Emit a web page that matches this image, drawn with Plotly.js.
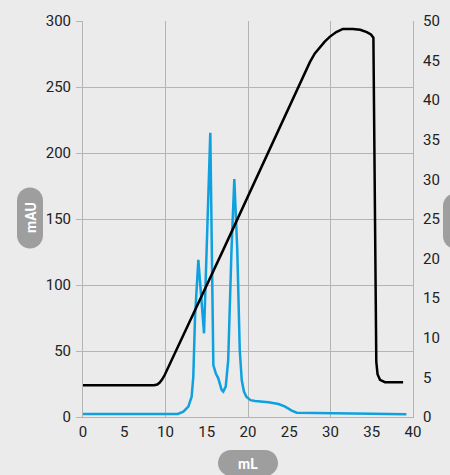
<!DOCTYPE html>
<html>
<head>
<meta charset="utf-8">
<script src="https://cdn.plot.ly/plotly-3.0.1.min.js"></script>
<style>html,body{margin:0;padding:0;background:#ebebeb;}#chart{width:450px;height:475px;}</style>
</head>
<body>
<div id="chart"></div>
<script>
// UV absorbance (mAU, left axis)
var uvVolume = [0, 5, 10, 11.5, 12.16, 12.77, 13.17, 13.37, 13.58, 13.98, 14.67, 15.43, 15.8, 16.1, 16.4, 16.8, 17.0, 17.3, 17.6, 17.8, 18.0, 18.34, 18.7, 19.0, 19.24, 19.5, 19.8, 20.3, 20.85, 22.5, 23.7, 24.5, 25.3, 25.9, 29.3, 35, 39.2];
var uvValues = [2.3, 2.3, 2.3, 2.3, 4.0, 7.8, 15.4, 30.5, 76, 119, 63.4, 215.4, 39.4, 33, 29.3, 20.5, 19.2, 23, 43, 88.6, 126.5, 180.3, 126.5, 50.8, 28, 19.5, 15.4, 12.8, 12.1, 11.1, 9.8, 7.8, 4.8, 3.3, 2.8, 2.4, 2.0];
// Second signal (right axis)
var bVolume = [0, 8.6, 9.0, 9.3, 9.6, 9.9, 17, 26.3, 27.0, 27.5, 28.1, 28.7, 29.3, 29.9, 30.7, 31.5, 32.7, 33.6, 34.4, 34.9, 35.2, 35.55, 35.7, 36.0, 36.6, 38.8];
var bValues = [4.0, 4.0, 4.1, 4.35, 4.75, 5.3, 21.1, 41.9, 43.5, 44.8, 45.9, 46.7, 47.4, 48.0, 48.6, 49.0, 49.0, 48.9, 48.6, 48.3, 47.9, 7.0, 5.4, 4.7, 4.4, 4.4];
var xTicks = [0, 5, 10, 15, 20, 25, 30, 35, 40];
var yLeftTicks = [0, 50, 100, 150, 200, 250, 300];
var yRightTicks = [0, 5, 10, 15, 20, 25, 30, 35, 40, 45, 50];

var gridC = '#b4b4b4';
var tickFont = {family: 'Roboto, sans-serif', size: 15, color: '#222'};

var traces = [
  {x: bVolume, y: bValues, xaxis: 'x2', yaxis: 'y2', type: 'scatter', mode: 'lines',
   line: {color: '#000000', width: 2.5}, hoverinfo: 'skip'},
  {x: uvVolume, y: uvValues, xaxis: 'x', yaxis: 'y', type: 'scatter', mode: 'lines',
   line: {color: '#0ea0df', width: 2.5}, hoverinfo: 'skip'}
];

function pillV(w, h) {
  var r = w / 2, s = h / 2 - r, k = 0.5523 * r;
  return 'M ' + (-r) + ',' + (-s) + ' L ' + (-r) + ',' + s +
    ' C ' + (-r) + ',' + (s + k) + ' ' + (-k) + ',' + (s + r) + ' 0,' + (s + r) +
    ' C ' + k + ',' + (s + r) + ' ' + r + ',' + (s + k) + ' ' + r + ',' + s +
    ' L ' + r + ',' + (-s) +
    ' C ' + r + ',' + (-s - k) + ' ' + k + ',' + (-s - r) + ' 0,' + (-s - r) +
    ' C ' + (-k) + ',' + (-s - r) + ' ' + (-r) + ',' + (-s - k) + ' ' + (-r) + ',' + (-s) + ' Z';
}
function pillH(w, h) {
  var r = h / 2, s = w / 2 - r, k = 0.5523 * r;
  return 'M ' + (-s) + ',' + (-r) + ' L ' + s + ',' + (-r) +
    ' C ' + (s + k) + ',' + (-r) + ' ' + (s + r) + ',' + (-k) + ' ' + (s + r) + ',0' +
    ' C ' + (s + r) + ',' + k + ' ' + (s + k) + ',' + r + ' ' + s + ',' + r +
    ' L ' + (-s) + ',' + r +
    ' C ' + (-s - k) + ',' + r + ' ' + (-s - r) + ',' + k + ' ' + (-s - r) + ',0' +
    ' C ' + (-s - r) + ',' + (-k) + ' ' + (-s - k) + ',' + (-r) + ' ' + (-s) + ',' + (-r) + ' Z';
}
var pillColor = '#9e9e9e';
function pxX(px) { return (px - 83) / 330; }
function pxY(py) { return (417 - py) / 396; }

var layout = {
  width: 450, height: 475,
  margin: {l: 83, r: 37, t: 21, b: 58},
  paper_bgcolor: '#ebebeb', plot_bgcolor: '#ebebeb',
  showlegend: false,
  xaxis: {range: [0, 40], tickvals: [0, 10, 20, 30, 40], showticklabels: false, ticks: '',
          showgrid: true, gridcolor: gridC, gridwidth: 1, zeroline: false,
          showline: true, linecolor: gridC, linewidth: 1, mirror: false, fixedrange: true},
  xaxis2: {range: [0, 40], matches: 'x', overlaying: 'x', anchor: 'y2', side: 'bottom',
           tickvals: xTicks, ticktext: xTicks.map(String), ticks: '', showgrid: false, zeroline: false,
           showline: false, tickfont: tickFont, ticklabelstandoff: 4},
  yaxis: {range: [0, 300], tickvals: yLeftTicks, ticktext: yLeftTicks.map(String),
          ticks: 'outside', ticklen: 6, tickcolor: gridC, tickwidth: 1,
          showgrid: true, gridcolor: gridC, gridwidth: 1, zeroline: false,
          showline: true, linecolor: gridC, linewidth: 1, tickfont: tickFont, ticklabelstandoff: 2},
  yaxis2: {range: [0, 50], overlaying: 'y', side: 'right', anchor: 'x2',
           tickvals: yRightTicks, ticktext: yRightTicks.map(String), ticks: '',
           showgrid: false, zeroline: false, showline: true, linecolor: gridC, linewidth: 1,
           tickfont: tickFont, ticklabelstandoff: 6},
  shapes: [
    {type: 'path', xref: 'paper', yref: 'paper', xsizemode: 'pixel', ysizemode: 'pixel',
     xanchor: pxX(30), yanchor: pxY(218), path: pillV(26, 61),
     fillcolor: pillColor, line: {width: 0}, layer: 'above'},
    {type: 'path', xref: 'paper', yref: 'paper', xsizemode: 'pixel', ysizemode: 'pixel',
     xanchor: 0.5, yanchor: pxY(463), path: pillH(60, 26),
     fillcolor: pillColor, line: {width: 0}, layer: 'above'},
    {type: 'path', xref: 'paper', yref: 'paper', xsizemode: 'pixel', ysizemode: 'pixel',
     xanchor: pxX(456), yanchor: pxY(221), path: pillV(26, 56),
     fillcolor: pillColor, line: {width: 0}, layer: 'above'}
  ],
  annotations: [
    {text: 'mAU', xref: 'paper', yref: 'paper', x: pxX(31), y: pxY(218), showarrow: false,
     textangle: -90, font: {family: 'Roboto, sans-serif', size: 14, color: '#ffffff', weight: 'bold'},
     xanchor: 'center', yanchor: 'middle'},
    {text: 'mL', xref: 'paper', yref: 'paper', x: 0.5, y: pxY(464), showarrow: false,
     font: {family: 'Roboto, sans-serif', size: 14, color: '#ffffff', weight: 'bold'},
     xanchor: 'center', yanchor: 'middle'}
  ]
};

Plotly.newPlot('chart', traces, layout, {staticPlot: true, displayModeBar: false});
</script>
</body>
</html>
